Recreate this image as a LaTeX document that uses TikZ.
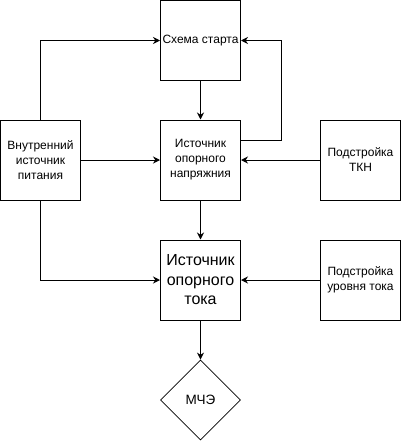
\documentclass[tikz,border=0pt]{standalone}
\usepackage{fontspec}
\setmainfont{Liberation Sans}
\usetikzlibrary{arrows.meta,shapes.geometric}
\begin{document}
\begin{tikzpicture}[x=1pt,y=-1pt,
  box/.style={draw,line width=1pt,minimum width=80pt,minimum height=80pt,inner sep=0pt,align=center,font=\fontsize{12}{15}\selectfont},
  bigbox/.style={box,font=\fontsize{16}{19.5}\selectfont},
  dia/.style={draw,diamond,line width=0.8pt,minimum width=80pt,minimum height=80pt,inner sep=0pt,aspect=1,font=\fontsize{13.5}{15}\selectfont},
  arr/.style={draw,line width=1pt,-{Stealth[length=7pt,width=7pt]}}]
\useasboundingbox (0,0) rectangle (401,442);
\node[box] (start) at (200.5,40.5) {Схема старта};
\node[box] (source) at (200.5,160) {Источник\\опорного\\напряжния};
\node[bigbox] (current) at (200.5,280) {Источник\\опорного\\тока};
\node[box] (left) at (40.5,160) {Внутренний\\источник\\питания};
\node[box] (tkn) at (360.5,160) {Подстройка\\ТКН};
\node[box] (level) at (360.5,280) {Подстройка\\уровня тока};
\node[dia] (mce) at (200.5,400) {МЧЭ};
\draw[arr] (left.north) |- (start.west);
\draw[arr] (left.east) -- (source.west);
\draw[arr] (left.south) |- (current.west);
\draw[arr] (start.south) -- (source.north);
\draw[arr] ([yshift=20pt]source.east) -- ++(40,0) |- (start.east);
\draw[arr] (tkn.west) -- (source.east);
\draw[arr] (source.south) -- (current.north);
\draw[arr] (level.west) -- (current.east);
\draw[arr] (current.south) -- (mce.north);
\end{tikzpicture}
\end{document}
